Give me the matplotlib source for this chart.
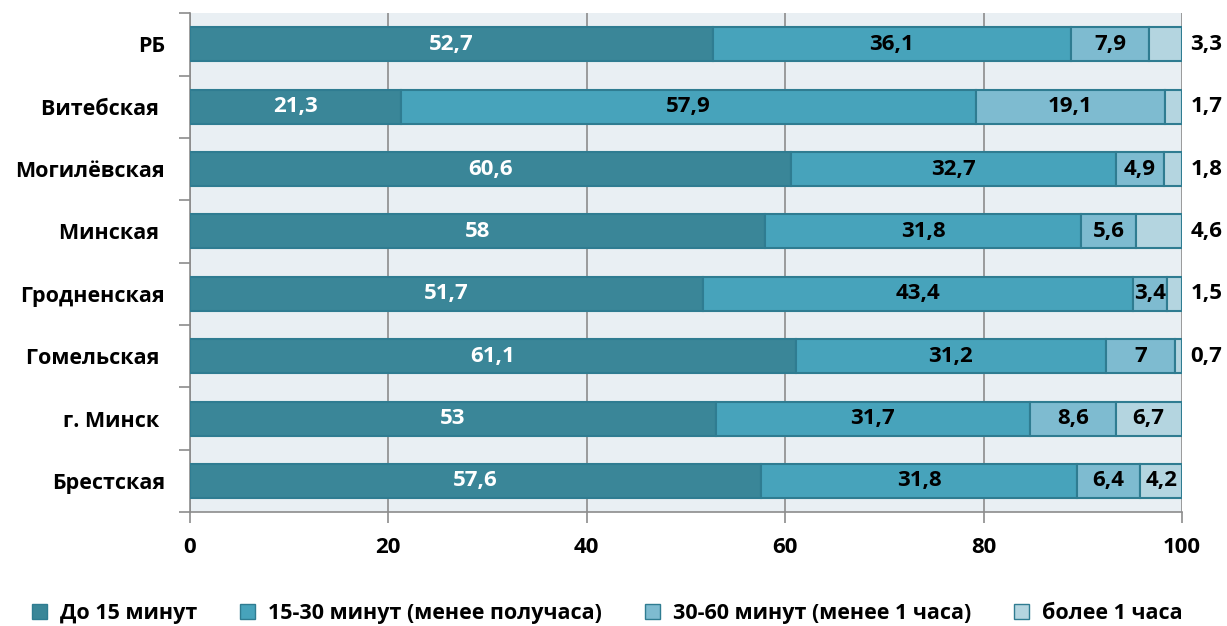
import numpy as np
import matplotlib.pyplot as plt
from matplotlib.patches import Patch

plt.rcParams['font.family'] = ['Open Sans', 'DejaVu Sans']
plt.rcParams['font.weight'] = 'bold'

regions = ["РБ", "Витебская ", "Могилёвская", "Минская ", "Гродненская",
           "Гомельская ", "г. Минск ", "Брестская"]
up_to_15 = [52.7, 21.3, 60.6, 58, 51.7, 61.1, 53, 57.6]
m15_30 = [36.1, 57.9, 32.7, 31.8, 43.4, 31.2, 31.7, 31.8]
m30_60 = [7.9, 19.1, 4.9, 5.6, 3.4, 7, 8.6, 6.4]
over_1h = [3.3, 1.7, 1.8, 4.6, 1.5, 0.7, 6.7, 4.2]
series_names = ["До 15 минут", "15-30 минут (менее получаса)",
                "30-60 минут (менее 1 часа)", "более 1 часа"]
colors = ["#3A8698", "#47A3BB", "#7EBBD0", "#B4D5E0"]
text_colors = ["white", "black", "black", "black"]
# last segment labelled outside the bar for these rows
outside = [True, True, True, True, True, True, False, False]


def fmt(v):
    if float(v).is_integer():
        return str(int(v))
    return ("%.1f" % v).replace(".", ",")


fig = plt.figure(figsize=(12.27, 6.26), dpi=100)
ax = fig.add_axes([0.1548, 0.182, 0.8085, 0.797])
ax.set_facecolor("#E9EFF3")

y = np.arange(len(regions))
left = np.zeros(len(regions))
series = [up_to_15, m15_30, m30_60, over_1h]
for k, vals in enumerate(series):
    vals = np.array(vals, dtype=float)
    ax.barh(y, vals, left=left, height=0.545, color=colors[k],
            edgecolor="#2F7C91", linewidth=1.5, zorder=3)
    for i, v in enumerate(vals):
        if k == 3 and outside[i]:
            ax.annotate(fmt(v), (100, i), xytext=(6, 0), textcoords="offset points",
                        ha="left", va="center", fontsize=16, fontweight="bold",
                        color="black", annotation_clip=False)
        else:
            ax.text(left[i] + v / 2, i, fmt(v), ha="center", va="center",
                    fontsize=16, fontweight="bold", color=text_colors[k], zorder=4)
    left += vals

ax.set_xlim(0, 100)
ax.set_ylim(len(regions) - 0.5, -0.5)
ax.set_xticks([0, 20, 40, 60, 80, 100])
ax.set_xticklabels(["0", "20", "40", "60", "80", "100"], fontsize=16, fontweight="bold")
ax.tick_params(axis="x", length=8, width=1.2, color="#8C8C8C", pad=10)
ax.set_yticks(y)
ax.set_yticklabels(regions, fontsize=15.5, fontweight="bold")
ax.set_yticks(np.arange(len(regions) + 1) - 0.5, minor=True)
ax.tick_params(axis="y", which="major", length=0, pad=18)
ax.tick_params(axis="y", which="minor", length=8, width=1.2, color="#8C8C8C")
ax.xaxis.grid(True, color="#8C8C8C", linewidth=1.2, zorder=0)
ax.set_axisbelow(True)
for side in ["top", "right"]:
    ax.spines[side].set_visible(False)
for side in ["left", "bottom"]:
    ax.spines[side].set_color("#8C8C8C")
    ax.spines[side].set_linewidth(1.2)

handles = [Patch(facecolor=colors[k], edgecolor="#2F7C91", label=series_names[k])
           for k in range(4)]
fig.legend(handles=handles, loc="center", bbox_to_anchor=(0.495, 0.02), ncol=4,
           frameon=False, prop={"size": 15.5, "weight": "bold"},
           handlelength=0.7, handleheight=0.7, handletextpad=0.6, columnspacing=2.0)

fig.savefig("out.png", dpi=100)
